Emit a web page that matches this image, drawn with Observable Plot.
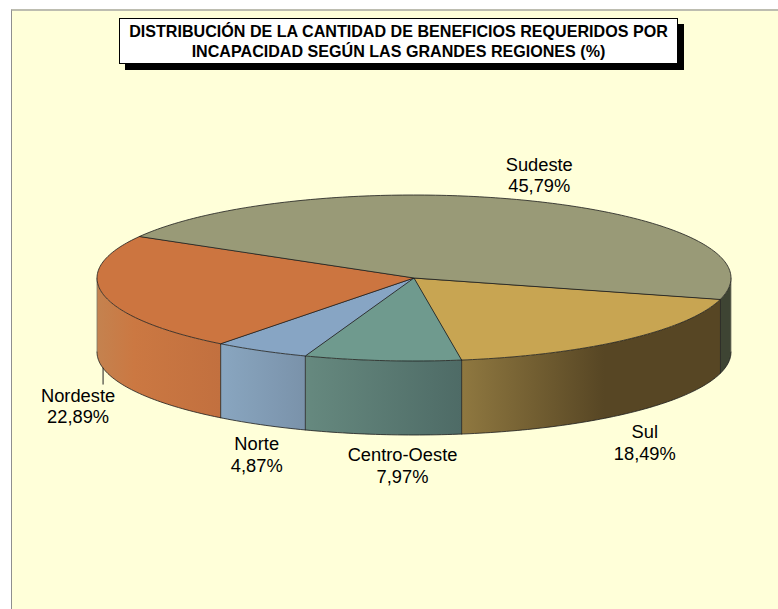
<!DOCTYPE html>
<html lang="es">
<head>
<meta charset="utf-8">
<script src="https://cdn.jsdelivr.net/npm/d3@7"></script>
<script src="https://cdn.jsdelivr.net/npm/@observablehq/plot@0.6"></script>
<style>
  html, body { margin: 0; padding: 0; background: #fff; overflow: hidden; }
  #page { position: relative; width: 778px; height: 609px; overflow: hidden; font-family: "Liberation Sans", Arial, sans-serif; }
  #panel { position: absolute; left: 11px; top: 9px; right: -2px; bottom: -2px; background: #FFFFD9;
           border-top: 2px solid #BDBDB0; border-left: 1px solid #8F8F8F; }
  #title { position: absolute; left: 119px; top: 18px; width: 557px; height: 44px; box-sizing: content-box;
           background: #fff; border: 1px solid #000; box-shadow: 6px 6px 0 #000; text-align: center;
           font-weight: bold; font-size: 16.1px; line-height: 20px; color: #000; white-space: nowrap; }
  #title div:first-child { margin-top: 2px; }
  #chart { position: absolute; left: 0; top: 0; }
  #chart svg { background: transparent; display: block; }
</style>
</head>
<body>
<div id="page">
  <div id="panel"></div>
  <div id="chart"></div>
  <div id="title"><div>DISTRIBUCIÓN DE LA CANTIDAD DE BENEFICIOS REQUERIDOS POR</div><div>INCAPACIDAD SEGÚN LAS GRANDES REGIONES (%)</div></div>
</div>
<script>
// Data
const regions = ["Sul", "Centro-Oeste", "Norte", "Nordeste", "Sudeste"];
const shares = [18.49, 7.97, 4.87, 22.89, 45.79];

// Styles
const topColors = ["#C8A552", "#6F9A8E", "#87A5C4", "#CC7540", "#999A77"];
const sideStops = [
  [[0, "#8F7840"], [0.55, "#574624"], [1, "#574624"]],
  [[0, "#66897F"], [1, "#4E6B66"]],
  [[0, "#89A6C0"], [1, "#7A92AA"]],
  [[0, "#C4824F"], [0.3, "#CB7842"], [1, "#C2703F"]],
  [[0, "#3E4433"], [1, "#3E4433"]]
];
const edgeColor = "#1c1c1c";
const silhouetteColor = "#7a7a6a";

// Layout
const startAngle = 14.8;         // where the first slice begins (degrees, clockwise from east)
const depth = 74 / 83;           // thickness of the pie in y-scale units
const labelDx = [19, 20, -4.5, -25, 4.5];
const labelDy = [46, 48, 47, 55, -9];
const leaderIndex = 3;           // only Nordeste has a leader line
const leaderLength = 16 / 83;

const rad = a => a * Math.PI / 180;
const total = d3.sum(shares);
let cursor = startAngle;
const slices = regions.map((name, i) => {
  const a0 = cursor, a1 = cursor + shares[i] / total * 360;
  cursor = a1;
  return {name, i, a0, a1, mid: (a0 + a1) / 2};
});
const rim = (a, z = 0) => ({x: Math.cos(rad(a)), y: Math.sin(rad(a)) + z});
const arc = (a0, a1, z = 0) => {
  const n = Math.max(2, Math.ceil(Math.abs(a1 - a0)));
  return d3.range(n + 1).map(k => rim(a0 + (a1 - a0) * k / n, z));
};
const wedge = s => [{x: 0, y: 0}, ...arc(s.a0, s.a1)];

// Portion of a slice's rim that faces the viewer (0..180 degrees, modulo 360)
function frontRange(s) {
  for (const shift of [0, -360]) {
    const lo = Math.max(s.a0 + shift, 0), hi = Math.min(s.a1 + shift, 180);
    if (hi > lo) return [lo, hi];
  }
  return null;
}
const band = ([lo, hi]) => [...arc(lo, hi), ...arc(hi, lo, depth)];

const defs = () => {
  const d = d3.create("svg:defs");
  sideStops.forEach((stops, i) => {
    const g = d.append("linearGradient").attr("id", `side${i}`)
      .attr("x1", 0).attr("x2", 1).attr("y1", 0).attr("y2", 0);
    stops.forEach(([o, c]) => g.append("stop").attr("offset", o).attr("stop-color", c));
  });
  return d.node();
};

const lineOpts = (stroke, strokeWidth = 0.8) => ({x: "x", y: "y", stroke, strokeWidth});

const sideMarks = slices.map(s => {
  const r = frontRange(s);
  return r && Plot.line(band(r), {x: "x", y: "y", curve: "linear-closed",
    fill: `url(#side${s.i})`, stroke: "none"});
}).filter(Boolean);

const bottomRimMark = Plot.line(arc(0, 180, depth), lineOpts(edgeColor));
const dividerMarks = slices
  .filter(s => s.a0 > 0 && s.a0 < 180)
  .map(s => Plot.line([rim(s.a0), rim(s.a0, depth)], lineOpts(edgeColor)));
const silhouetteMarks = [0, 180]
  .map(a => Plot.line([rim(a), rim(a, depth)], lineOpts(silhouetteColor)));

const topMarks = slices.map(s =>
  Plot.line(wedge(s), {x: "x", y: "y", curve: "linear-closed",
    fill: topColors[s.i], stroke: edgeColor, strokeWidth: 0.8}));

const labelMarks = slices.map(s => {
  const front = s.mid % 360 < 180;
  const p = rim(s.mid, front ? depth : 0);
  return Plot.text([p], {x: "x", y: "y", dx: labelDx[s.i], dy: labelDy[s.i],
    text: () => `${s.name}\n${shares[s.i].toFixed(2).replace(".", ",")}%`,
    textAnchor: "middle", lineAnchor: "bottom", lineHeight: 1.17,
    fontSize: 18.3, fontFamily: "Liberation Sans, Arial, sans-serif", fill: "#000"});
});

const ls = slices[leaderIndex];
const leaderStart = rim(ls.mid, depth);
const leader = Plot.line(
  [leaderStart, {x: leaderStart.x, y: leaderStart.y + leaderLength}],
  lineOpts("#222", 1));

const chart = Plot.plot({
  width: 778, height: 609, margin: 0,
  style: {background: "transparent"},
  x: {domain: [-1, 1], range: [96.5, 730.5], axis: null},
  y: {domain: [-1, 1], range: [194.5, 360.5], axis: null},
  marks: [defs, ...sideMarks, bottomRimMark, ...silhouetteMarks, ...dividerMarks, ...topMarks, leader, ...labelMarks]
});
document.getElementById("chart").append(chart);
</script>
</body>
</html>
